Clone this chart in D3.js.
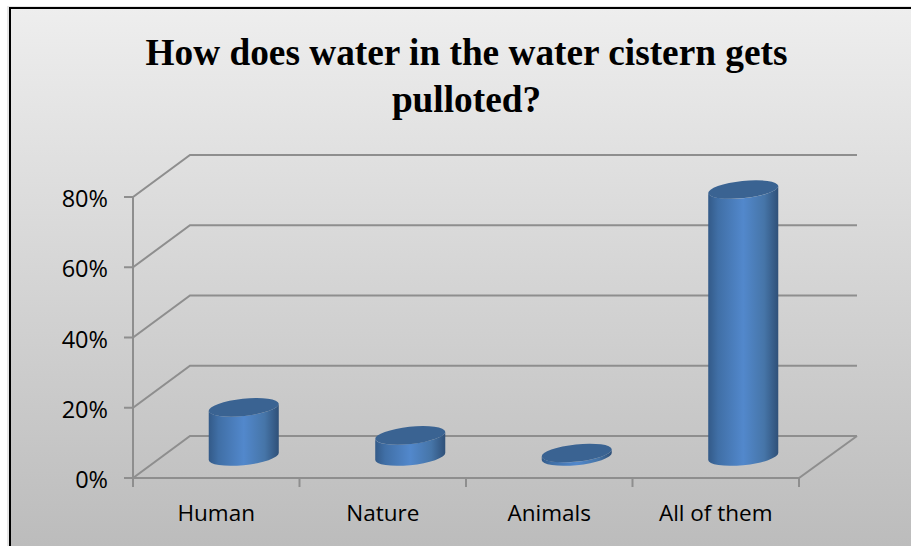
<!DOCTYPE html>
<html><head><meta charset="utf-8">
<script src="https://cdnjs.cloudflare.com/ajax/libs/d3/7.8.5/d3.min.js"></script>
<style>html,body{margin:0;padding:0;background:#fff}svg{display:block}</style></head>
<body><svg id="c" width="911" height="546"></svg>
<script>
const categories = ["Human", "Nature", "Animals", "All of them"];
const values = [14, 6, 1, 76];
const yTickValues = [0, 20, 40, 60, 80];
const titleLines = ["How does water in the water cistern gets", "pulloted?"];

const svg = d3.select("#c");
const defs = svg.append("defs");
const bg = defs.append("linearGradient").attr("id","bg").attr("gradientUnits","userSpaceOnUse").attr("x1",0).attr("y1",8).attr("x2",0).attr("y2",546);
bg.append("stop").attr("offset",0).attr("stop-color","#eeeeee");
bg.append("stop").attr("offset",1).attr("stop-color","#bcbcbc");
const cyl = defs.append("linearGradient").attr("id","cyl").attr("x1",0).attr("y1",0).attr("x2",1).attr("y2",0);
[[0,"#335a88"],[0.14,"#406fa6"],[0.5,"#5288cc"],[0.8,"#4675a8"],[1,"#2f5078"]].forEach(s=>
  cyl.append("stop").attr("offset",s[0]).attr("stop-color",s[1]));

svg.append("rect").attr("x",7).attr("y",6).attr("width",910).attr("height",560).attr("fill","#e6e6e6");
svg.append("rect").attr("x",10).attr("y",8).attr("width",910).attr("height",560)
  .attr("fill","url(#bg)").attr("stroke","#000").attr("stroke-width",2);

const y = d3.scaleLinear().domain([0,80]).range([478,197]);
const x = d3.scaleBand().domain(categories).range([133,799]);
const dx = 57, dy = -42, backRight = 857;
const axisCol = "#8e8e8e";
const g = svg.append("g").attr("fill","none").attr("stroke",axisCol).attr("stroke-width",2);

yTickValues.forEach(v=>{
  g.append("path").attr("d",d3.line()([[x.range()[0]-9,y(v)],[x.range()[0],y(v)],[x.range()[0]+dx,y(v)+dy],[backRight,y(v)+dy]]));
});
g.append("path").attr("d",d3.line()([[133,y(80)],[133,y(0)],[799,y(0)],[backRight,y(0)+dy]]));
x.domain().concat([null]).forEach(c=>{
  const px = c===null ? x.range()[1] : x(c);
  g.append("line").attr("x1",px).attr("x2",px).attr("y1",y(0)).attr("y2",y(0)+9);
});

const rx = 35.2, ry = 8.6, tilt = -6;
const th = tilt*Math.PI/180;
const ex = Math.hypot(rx*Math.cos(th), ry*Math.sin(th));
const off = (rx*rx-ry*ry)*Math.sin(th)*Math.cos(th)/ex;
const yBase = 456.5;
const unit = (y(0)-y(80))/80;
const bars = svg.append("g");
categories.forEach((c,i)=>{
  const cx = x(c)+x.bandwidth()/2 + 27.5;
  const yTop = yBase - values[i]*unit;
  const L = cx-ex, R = cx+ex;
  bars.append("path").attr("fill","url(#cyl)")
    .attr("d",`M${L},${yTop-off}L${L},${yBase-off}A${rx},${ry} ${tilt} 0 0 ${R},${yBase+off}L${R},${yTop+off}A${rx},${ry} ${tilt} 0 1 ${L},${yTop-off}Z`);
  bars.append("ellipse").attr("cx",cx).attr("cy",yTop).attr("rx",rx).attr("ry",ry)
    .attr("transform",`rotate(${tilt} ${cx} ${yTop})`).attr("fill","#3a6392");
});

const t = svg.append("g").attr("fill","#000");
t.selectAll("text.y").data(yTickValues).join("text").attr("class","y")
  .attr("x",108).attr("y",d=>y(d)+10).attr("text-anchor","end")
  .style("font","23.5px 'Open Sans','Noto Sans',sans-serif").text(d=>d+"%");
t.selectAll("text.x").data(categories).join("text").attr("class","x")
  .attr("x",d=>x(d)+x.bandwidth()/2).attr("y",521).attr("text-anchor","middle")
  .style("font","22.5px 'Open Sans','Noto Sans',sans-serif").text(d=>d);
t.selectAll("text.t").data(titleLines).join("text").attr("class","t")
  .attr("x",466.5).attr("y",(d,i)=>65+i*47).attr("text-anchor","middle")
  .style("font","bold 37.3px 'Liberation Serif',serif").text(d=>d);
</script></body></html>
